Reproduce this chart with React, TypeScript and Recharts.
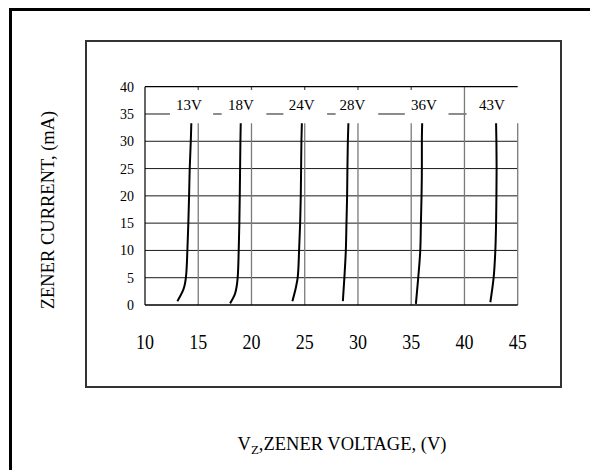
import React from 'react';
import { ComposedChart, Line, XAxis, YAxis, ReferenceLine, Scatter } from 'recharts';

const FONT = '"Liberation Serif", "Times New Roman", Times, serif';

// Zener curves: v = voltage (V), i = current (mA)
const curve13V = [
  { v: 13.04, i: 0.7 }, { v: 13.6, i: 2.8 }, { v: 13.85, i: 5.2 }, { v: 13.98, i: 10 },
  { v: 14.07, i: 15 }, { v: 14.14, i: 20 }, { v: 14.2, i: 25 }, { v: 14.3, i: 30 }, { v: 14.35, i: 33.3 },
];
const curve18V = [
  { v: 17.99, i: 0.3 }, { v: 18.46, i: 2.1 }, { v: 18.71, i: 5.2 }, { v: 18.8, i: 10 },
  { v: 18.86, i: 15 }, { v: 18.9, i: 20 }, { v: 18.93, i: 25 }, { v: 18.96, i: 30 }, { v: 18.99, i: 33.3 },
];
const curve24V = [
  { v: 23.84, i: 0.7 }, { v: 24.19, i: 3.4 }, { v: 24.35, i: 5.2 }, { v: 24.47, i: 10 },
  { v: 24.57, i: 15 }, { v: 24.63, i: 20 }, { v: 24.66, i: 25 }, { v: 24.69, i: 30 }, { v: 24.73, i: 33.3 },
];
const curve28V = [
  { v: 28.58, i: 0.7 }, { v: 28.73, i: 5.2 }, { v: 28.86, i: 10 }, { v: 28.92, i: 15 },
  { v: 28.98, i: 20 }, { v: 29.01, i: 25 }, { v: 29.05, i: 30 }, { v: 29.1, i: 33.3 },
];
const curve36V = [
  { v: 35.44, i: 0.2 }, { v: 35.66, i: 5 }, { v: 35.85, i: 10 }, { v: 35.91, i: 15 },
  { v: 35.97, i: 20 }, { v: 36.0, i: 25 }, { v: 36.0, i: 30 }, { v: 36.03, i: 33.3 },
];
const curve43V = [
  { v: 42.43, i: 0.5 }, { v: 42.74, i: 5 }, { v: 42.9, i: 10 }, { v: 42.97, i: 15 },
  { v: 43.0, i: 20 }, { v: 43.02, i: 25 }, { v: 43.0, i: 30 }, { v: 42.97, i: 33.3 },
];
const curves = [curve13V, curve18V, curve24V, curve28V, curve36V, curve43V];

// curve labels
const curveLabels = [
  { v: 14.12, i: 35.8, name: '13V' },
  { v: 19.0, i: 35.8, name: '18V' },
  { v: 24.72, i: 35.8, name: '24V' },
  { v: 29.49, i: 35.8, name: '28V' },
  { v: 36.2, i: 35.8, name: '36V' },
  { v: 42.58, i: 35.8, name: '43V' },
];

const xTicks = [10, 15, 20, 25, 30, 35, 40, 45];
const yTicks = [0, 5, 10, 15, 20, 25, 30, 35, 40];
const xGrid = [15, 20, 25, 30, 35];
const yGrid = [5, 10, 15, 20, 25, 30];
const gridTopV = 33.3;
// visible pieces of the 35 mA gridline between the labels
const grid35Pieces = [
  [10, 12.35], [16.4, 17.2], [21.4, 23.0], [27.1, 27.9], [31.9, 34.4], [38.5, 40.2],
];

const XTick = (props: any) => {
  const { x, y, payload } = props;
  return (
    <g transform={`translate(${x},${y + 41.7}) scale(1,1.2)`}>
      <text x={0} y={0} textAnchor="middle" fontSize={18} fontFamily={FONT} fill="#000">
        {payload.value}
      </text>
    </g>
  );
};

const YTick = (props: any) => {
  const { x, y, payload } = props;
  return (
    <text x={x} y={y + 5} textAnchor="end" fontSize={14} fontFamily={FONT} fill="#000">
      {payload.value}
    </text>
  );
};

const LabelShape = (props: any) => {
  const { cx, cy, payload } = props;
  return (
    <text x={cx} y={cy} textAnchor="middle" fontSize={15} fontFamily={FONT} fill="#000">
      {payload.name}
    </text>
  );
};

export default function App() {
  return (
    <div style={{ position: 'absolute', left: 0, top: 0, width: 590, height: 470, overflow: 'hidden', background: '#fff' }}>
      <style>{`body{margin:0;overflow:hidden;}`}</style>
      <div
        style={{
          position: 'absolute', left: 9, top: 8, width: 700, height: 600,
          borderLeft: '3px solid #000', borderTop: '3px solid #000', boxSizing: 'border-box',
        }}
      />
      <div
        style={{
          position: 'absolute', left: 85, top: 40, width: 477, height: 348,
          border: '2px solid #333', boxSizing: 'border-box',
        }}
      />
      <div style={{ position: 'absolute', left: 0, top: 0 }}>
        <ComposedChart
          width={590}
          height={470}
          margin={{ top: 86.7, right: 72.3, bottom: 125, left: 105 }}
        >
          <XAxis
            type="number"
            dataKey="v"
            domain={[10, 45]}
            ticks={xTicks}
            allowDataOverflow
            height={40}
            tickSize={0}
            tickLine={false}
            axisLine={{ stroke: '#000', strokeWidth: 1.5 }}
            tick={<XTick />}
          />
          <YAxis
            type="number"
            dataKey="i"
            domain={[0, 40]}
            ticks={yTicks}
            allowDataOverflow
            width={40}
            tickSize={0}
            tickMargin={11}
            tickLine={false}
            axisLine={{ stroke: '#000', strokeWidth: 1.2 }}
            tick={<YTick />}
          />
          {yGrid.map((y) => (
            <ReferenceLine key={`h${y}`} y={y} stroke="#1a1a1a" strokeWidth={1} />
          ))}
          {grid35Pieces.map(([a, b], k) => (
            <ReferenceLine
              key={`p${k}`}
              segment={[{ x: a, y: 35 }, { x: b, y: 35 }]}
              stroke="#1a1a1a"
              strokeWidth={1}
            />
          ))}
          {xGrid.map((x) => (
            <ReferenceLine
              key={`v${x}`}
              segment={[{ x, y: 0 }, { x, y: gridTopV }]}
              stroke="#7a7a7a"
              strokeWidth={1.3}
            />
          ))}
          {xGrid.map((x) => (
            <ReferenceLine
              key={`t${x}`}
              segment={[{ x, y: 39.4 }, { x, y: 40 }]}
              stroke="#555"
              strokeWidth={1.3}
            />
          ))}
          <ReferenceLine x={40} stroke="#7a7a7a" strokeWidth={1.3} />
          <ReferenceLine
            segment={[{ x: 45, y: 0 }, { x: 45, y: gridTopV }]}
            stroke="#7a7a7a"
            strokeWidth={1.3}
          />
          <ReferenceLine y={40} stroke="#000" strokeWidth={1.2} />
          {curves.map((c, k) => (
            <Line
              key={`c${k}`}
              data={c}
              dataKey="i"
              type="monotoneY"
              stroke="#000"
              strokeWidth={2}
              dot={false}
              activeDot={false}
              isAnimationActive={false}
            />
          ))}
          <Scatter data={curveLabels} dataKey="i" shape={<LabelShape />} isAnimationActive={false} />
        </ComposedChart>
      </div>
      <svg
        width={590}
        height={470}
        style={{ position: 'absolute', left: 0, top: 0, pointerEvents: 'none' }}
      >
        <text
          transform="translate(54,210) rotate(-90)"
          textAnchor="middle"
          fontSize={18.5}
          fontFamily={FONT}
          fill="#000"
        >
          ZENER CURRENT, (mA)
        </text>
        <text x={342} y={450} textAnchor="middle" fontSize={18.5} fontFamily={FONT} fill="#000">
          V<tspan fontSize={13} dy={4}>Z</tspan>
          <tspan dy={-4}>,ZENER VOLTAGE, (V)</tspan>
        </text>
      </svg>
    </div>
  );
}
